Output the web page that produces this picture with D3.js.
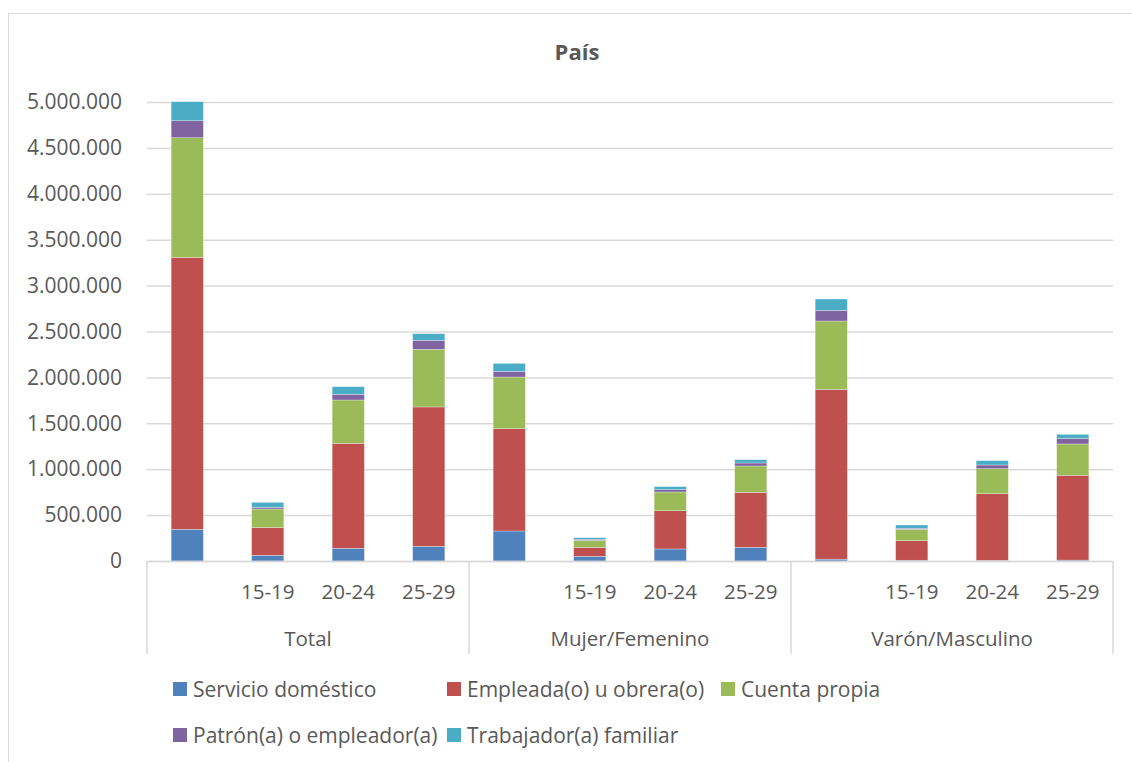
<!DOCTYPE html>
<html>
  <head>
    <title>País</title>
    <script src="https://d3js.org/d3.v7.min.js"></script>
    <style>
      body { margin: 0; background: #fff; }
      text { font-family: "Open Sans", sans-serif; fill: #595959; }
    </style>
  </head>
  <body>
    <div id="chart"></div>
    <script>
      // data
      var groups = ["Total", "Mujer/Femenino", "Varón/Masculino"];
      var ages = ["", "15-19", "20-24", "25-29"];
      var seriesNames = ["Servicio doméstico", "Empleada(o) u obrera(o)", "Cuenta propia",
                         "Patrón(a) o empleador(a)", "Trabajador(a) familiar"];
      var colors = ["#4f81bd", "#c0504d", "#9bbb59", "#8064a2", "#4bacc6"];
      // one array per series, 12 values: Total(all,15-19,20-24,25-29), Mujer(...), Varón(...)
      var servicio   = [345000, 62000, 138000, 160000, 327000, 51000, 131000, 149000, 20000, 8000, 7000, 10000];
      var empleada   = [2963000, 301000, 1144000, 1518000, 1114000, 98000, 417000, 599000, 1850000, 213000, 726000, 924000];
      var cuenta     = [1303000, 203000, 472000, 628000, 563000, 76000, 204000, 287000, 744000, 124000, 272000, 341000];
      var patron     = [185000, 19000, 62000, 98000, 62000, 11000, 25000, 33000, 117000, 11000, 41000, 58000];
      var trabajador = [207000, 54000, 83000, 72000, 87000, 18000, 33000, 36000, 123000, 36000, 47000, 47000];
      var yTicks = [0, 500000, 1000000, 1500000, 2000000, 2500000, 3000000, 3500000, 4000000, 4500000, 5000000];

      var seriesValues = [servicio, empleada, cuenta, patron, trabajador];
      var keys = ["s0", "s1", "s2", "s3", "s4"];
      var rows = [];
      groups.forEach(function(g, gi) {
        ages.forEach(function(a, ai) {
          var i = gi * ages.length + ai;
          var row = { id: i, group: g, age: a };
          keys.forEach(function(k, si) { row[k] = seriesValues[si][i]; });
          rows.push(row);
        });
      });

      var W = 1132, H = 762;
      var plotL = 147, plotR = 1113, plotT = 102, plotB = 561;

      var svg = d3.select("#chart").append("svg")
        .attr("width", W).attr("height", H);

      // chart border
      svg.append("rect")
        .attr("x", 8.5).attr("y", 13.5)
        .attr("width", W + 10).attr("height", H + 10)
        .attr("fill", "none").attr("stroke", "#d9d9d9").attr("stroke-width", 1);

      var x = d3.scaleBand()
        .domain(rows.map(function(d) { return d.id; }))
        .range([plotL, plotR])
        .paddingInner(0.6).paddingOuter(0.3);

      var y = d3.scaleLinear().domain([0, 5000000]).range([plotB, plotT]);
      var fmt = function(v) { return v === 0 ? "0" : d3.format(",")(v).replace(/,/g, "."); };

      // gridlines + y labels
      var yAxis = svg.append("g")
        .attr("transform", "translate(" + plotL + ",0)")
        .call(d3.axisLeft(y).tickValues(yTicks).tickSize(-(plotR - plotL)).tickPadding(25).tickFormat(fmt));
      yAxis.select(".domain").remove();
      yAxis.selectAll(".tick line").attr("stroke", "#d9d9d9").attr("stroke-width", 1.5);
      yAxis.selectAll(".tick text").attr("font-size", 21).style("font-family", "'Open Sans', sans-serif").attr("fill", "#595959");

      // stacked bars
      var stack = d3.stack().keys(keys)(rows);
      svg.append("g").selectAll("g")
        .data(stack).enter().append("g")
        .attr("fill", function(d, i) { return colors[i]; })
        .selectAll("rect")
        .data(function(d) { return d; }).enter().append("rect")
        .attr("x", function(d) { return x(d.data.id); })
        .attr("width", x.bandwidth())
        .attr("y", function(d) { return y(d[1]); })
        .attr("height", function(d) { return y(d[0]) - y(d[1]); })
        .attr("stroke", "#fff").attr("stroke-opacity", 0.5).attr("stroke-width", 0.6);

      // category axis
      var ax = svg.append("g");
      ax.append("line")
        .attr("x1", plotL).attr("x2", plotR).attr("y1", plotB + 0.5).attr("y2", plotB + 0.5)
        .attr("stroke", "#d9d9d9").attr("stroke-width", 1.5);
      var gw = (plotR - plotL) / groups.length;
      d3.range(groups.length + 1).forEach(function(i) {
        ax.append("line")
          .attr("x1", plotL + i * gw).attr("x2", plotL + i * gw)
          .attr("y1", plotB).attr("y2", 654)
          .attr("stroke", "#d9d9d9").attr("stroke-width", 1.5);
      });
      ax.selectAll("text.age").data(rows).enter().append("text")
        .attr("class", "age")
        .attr("x", function(d) { return x(d.id) + x.bandwidth() / 2; })
        .attr("y", 599).attr("text-anchor", "middle").attr("font-size", 20.5)
        .text(function(d) { return d.age; });
      ax.selectAll("text.grp").data(groups).enter().append("text")
        .attr("class", "grp")
        .attr("x", function(d, i) { return plotL + (i + 0.5) * gw; })
        .attr("y", 646).attr("text-anchor", "middle").attr("font-size", 20.5)
        .text(function(d) { return d; });

      // title
      svg.append("text")
        .attr("x", 577).attr("y", 60).attr("text-anchor", "middle")
        .attr("font-size", 22).attr("font-weight", "bold")
        .text("País");

      // legend
      var legendPos = [[173, 689], [447, 689], [721, 689], [173, 735], [447, 735]];
      var lg = svg.append("g").selectAll("g")
        .data(seriesNames).enter().append("g")
        .attr("transform", function(d, i) { return "translate(" + legendPos[i][0] + "," + legendPos[i][1] + ")"; });
      lg.append("rect")
        .attr("x", 0).attr("y", -7).attr("width", 14).attr("height", 14)
        .attr("fill", function(d, i) { return colors[i]; });
      lg.append("text")
        .attr("x", 20).attr("y", 7.5).attr("font-size", 21)
        .text(function(d) { return d; });
    </script>
  </body>
</html>
